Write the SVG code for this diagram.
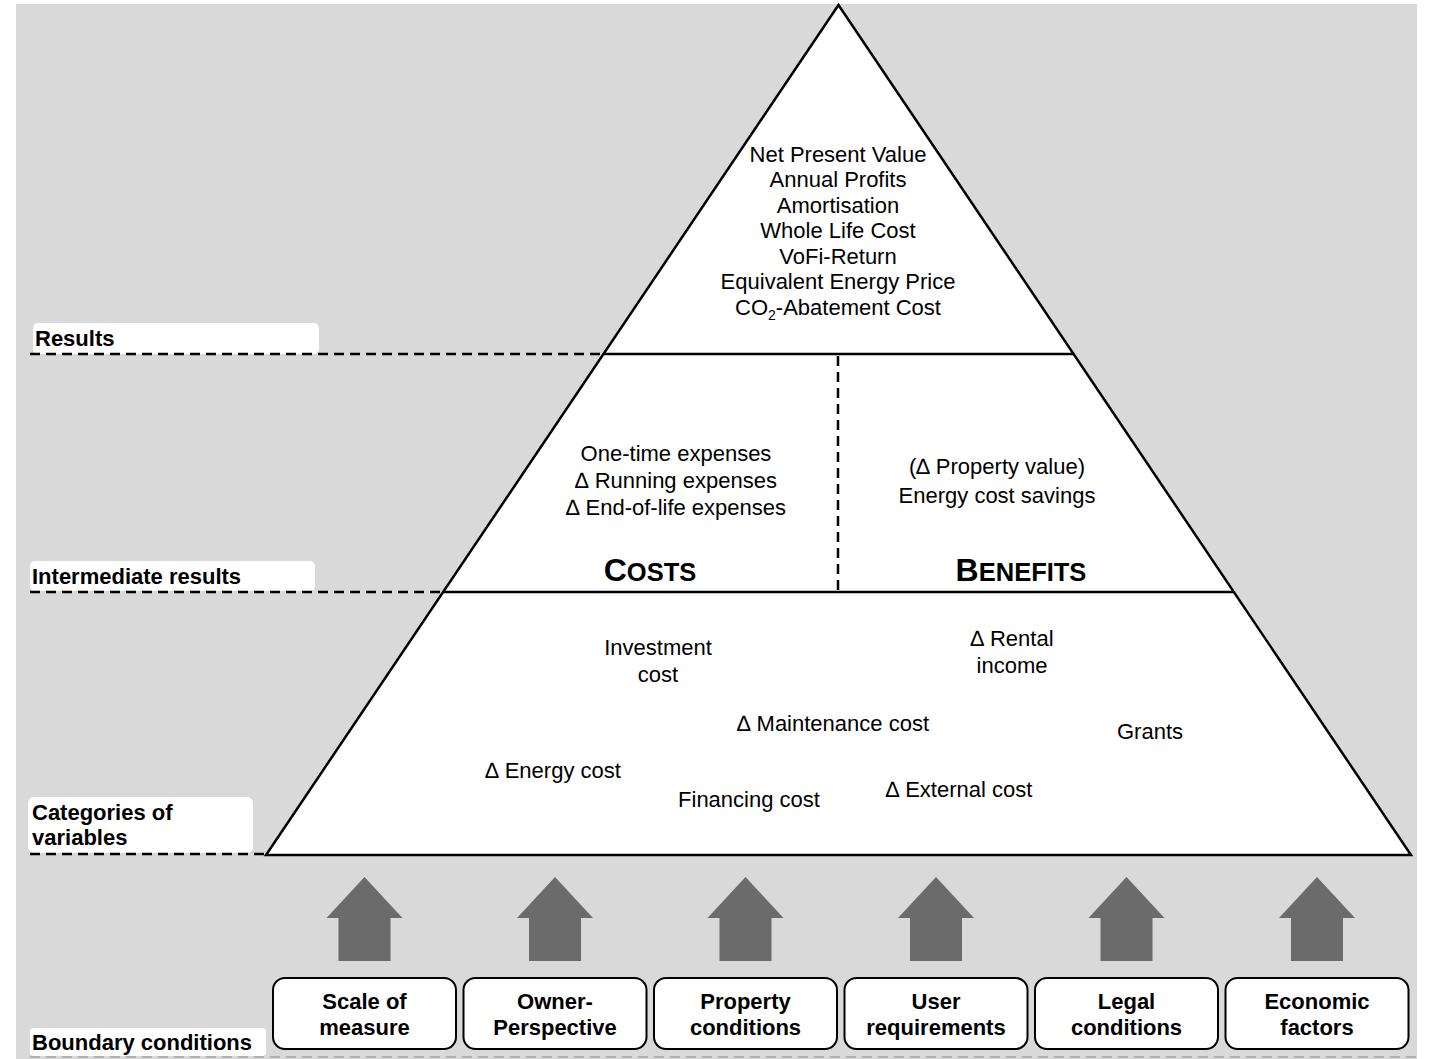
<svg xmlns="http://www.w3.org/2000/svg" width="1429" height="1059" viewBox="0 0 1429 1059">
  <style>
    .t { font-family: "Liberation Sans", Arial, sans-serif; font-size: 22px; fill: #000; text-anchor: middle; }
    .lbl { font-family: "Liberation Sans", Arial, sans-serif; font-size: 22px; font-weight: bold; fill: #000; }
    .box { fill: #fff; stroke: #000; stroke-width: 2; }
    .bt { font-family: "Liberation Sans", Arial, sans-serif; font-size: 22px; font-weight: bold; fill: #000; text-anchor: middle; }
    .lblbox { fill: #fff; }
    .dash { stroke: #000; stroke-width: 2.5; stroke-dasharray: 10 6; fill: none; }
    .arrow { fill: #6b6b6b; }
    .sc { font-family: "Liberation Sans", Arial, sans-serif; font-weight: bold; font-size: 32px; fill: #000; text-anchor: middle; }
  </style>
  <defs>
    <path id="up" d="M0,-41 L38,0 L26,0 L26,43 L-26,43 L-26,0 L-38,0 Z"/>
  </defs>

  <!-- backdrop -->
  <rect x="16" y="4" width="1401" height="1055" fill="#d9d9d9"/>

  <!-- level labels -->
  <g id="label-results">
    <rect class="lblbox" x="33" y="323" width="286" height="31" rx="5"/>
    <text class="lbl" x="35" y="346">Results</text>
  </g>
  <g id="label-intermediate">
    <rect class="lblbox" x="30" y="561" width="285" height="30" rx="5"/>
    <text class="lbl" x="32" y="584">Intermediate results</text>
  </g>
  <g id="label-categories">
    <rect class="lblbox" x="28" y="797" width="225" height="56" rx="6"/>
    <text class="lbl" x="32" y="820">Categories of</text>
    <text class="lbl" x="32" y="845">variables</text>
  </g>
  <g id="label-boundary">
    <rect class="lblbox" x="30" y="1028" width="236" height="28" rx="4"/>
    <text class="lbl" x="32" y="1050">Boundary conditions</text>
  </g>

  <!-- pyramid -->
  <g id="pyramid">
    <polygon points="838.5,5 266,855 1411,855" fill="#fff" stroke="#000" stroke-width="2.5" stroke-linejoin="miter"/>
    <line x1="603" y1="354" x2="1073" y2="354" stroke="#000" stroke-width="2.5"/>
    <line x1="443" y1="592" x2="1233" y2="592" stroke="#000" stroke-width="2.5"/>
  </g>

  <!-- level separators -->
  <g id="connectors">
    <line class="dash" x1="30" y1="354" x2="604" y2="354"/>
    <line class="dash" x1="30" y1="592" x2="444" y2="592"/>
    <line class="dash" x1="30" y1="854" x2="266" y2="854"/>
    <line class="dash" x1="838" y1="356" x2="838" y2="590"/>
    <line x1="30" y1="1057" x2="1417" y2="1057" stroke="#b0b0b0" stroke-width="2" stroke-dasharray="10 6"/>
  </g>

  <g id="results">
    <text class="t" x="838" y="162">Net Present Value</text>
    <text class="t" x="838" y="187">Annual Profits</text>
    <text class="t" x="838" y="213">Amortisation</text>
    <text class="t" x="838" y="238">Whole Life Cost</text>
    <text class="t" x="838" y="264">VoFi-Return</text>
    <text class="t" x="838" y="289">Equivalent Energy Price</text>
    <text class="t" x="838" y="315">CO<tspan font-size="14" dy="5">2</tspan><tspan dy="-5">-Abatement Cost</tspan></text>
  </g>

  <g id="costs">
    <text class="t" x="676" y="461" font-size="23">One-time expenses</text>
    <text class="t" x="676" y="488" font-size="23">∆ Running expenses</text>
    <text class="t" x="676" y="515" font-size="23">∆ End-of-life expenses</text>
    <text class="sc" x="650" y="581">C<tspan font-size="25.5">OSTS</tspan></text>
  </g>

  <g id="benefits">
    <text class="t" x="997" y="474">(∆ Property value)</text>
    <text class="t" x="997" y="503">Energy cost savings</text>
    <text class="sc" x="1021" y="581">B<tspan font-size="25.5">ENEFITS</tspan></text>
  </g>

  <g id="variables">
    <text class="t" x="658" y="655">Investment</text>
    <text class="t" x="658" y="682">cost</text>
    <text class="t" x="1012" y="646">∆ Rental</text>
    <text class="t" x="1012" y="673">income</text>
    <text class="t" x="833" y="731">∆ Maintenance cost</text>
    <text class="t" x="1150" y="739">Grants</text>
    <text class="t" x="553" y="778">∆ Energy cost</text>
    <text class="t" x="749" y="807">Financing cost</text>
    <text class="t" x="959" y="797">∆ External cost</text>
  </g>

  <!-- influence arrows -->
  <g id="arrows">
    <use href="#up" class="arrow" x="364.5" y="918"/>
    <use href="#up" class="arrow" x="555" y="918"/>
    <use href="#up" class="arrow" x="745.5" y="918"/>
    <use href="#up" class="arrow" x="936" y="918"/>
    <use href="#up" class="arrow" x="1126.5" y="918"/>
    <use href="#up" class="arrow" x="1317" y="918"/>
  </g>

  <!-- boundary condition boxes -->
  <g id="bc-scale">
    <rect class="box" x="273" y="978" width="183" height="71" rx="12"/>
    <text class="bt" x="364.5" y="1009">Scale of</text>
    <text class="bt" x="364.5" y="1035">measure</text>
  </g>
  <g id="bc-owner">
    <rect class="box" x="463.5" y="978" width="183" height="71" rx="12"/>
    <text class="bt" x="555" y="1009">Owner-</text>
    <text class="bt" x="555" y="1035">Perspective</text>
  </g>
  <g id="bc-property">
    <rect class="box" x="654" y="978" width="183" height="71" rx="12"/>
    <text class="bt" x="745.5" y="1009">Property</text>
    <text class="bt" x="745.5" y="1035">conditions</text>
  </g>
  <g id="bc-user">
    <rect class="box" x="844.5" y="978" width="183" height="71" rx="12"/>
    <text class="bt" x="936" y="1009">User</text>
    <text class="bt" x="936" y="1035">requirements</text>
  </g>
  <g id="bc-legal">
    <rect class="box" x="1035" y="978" width="183" height="71" rx="12"/>
    <text class="bt" x="1126.5" y="1009">Legal</text>
    <text class="bt" x="1126.5" y="1035">conditions</text>
  </g>
  <g id="bc-economic">
    <rect class="box" x="1225.5" y="978" width="183" height="71" rx="12"/>
    <text class="bt" x="1317" y="1009">Economic</text>
    <text class="bt" x="1317" y="1035">factors</text>
  </g>
</svg>
